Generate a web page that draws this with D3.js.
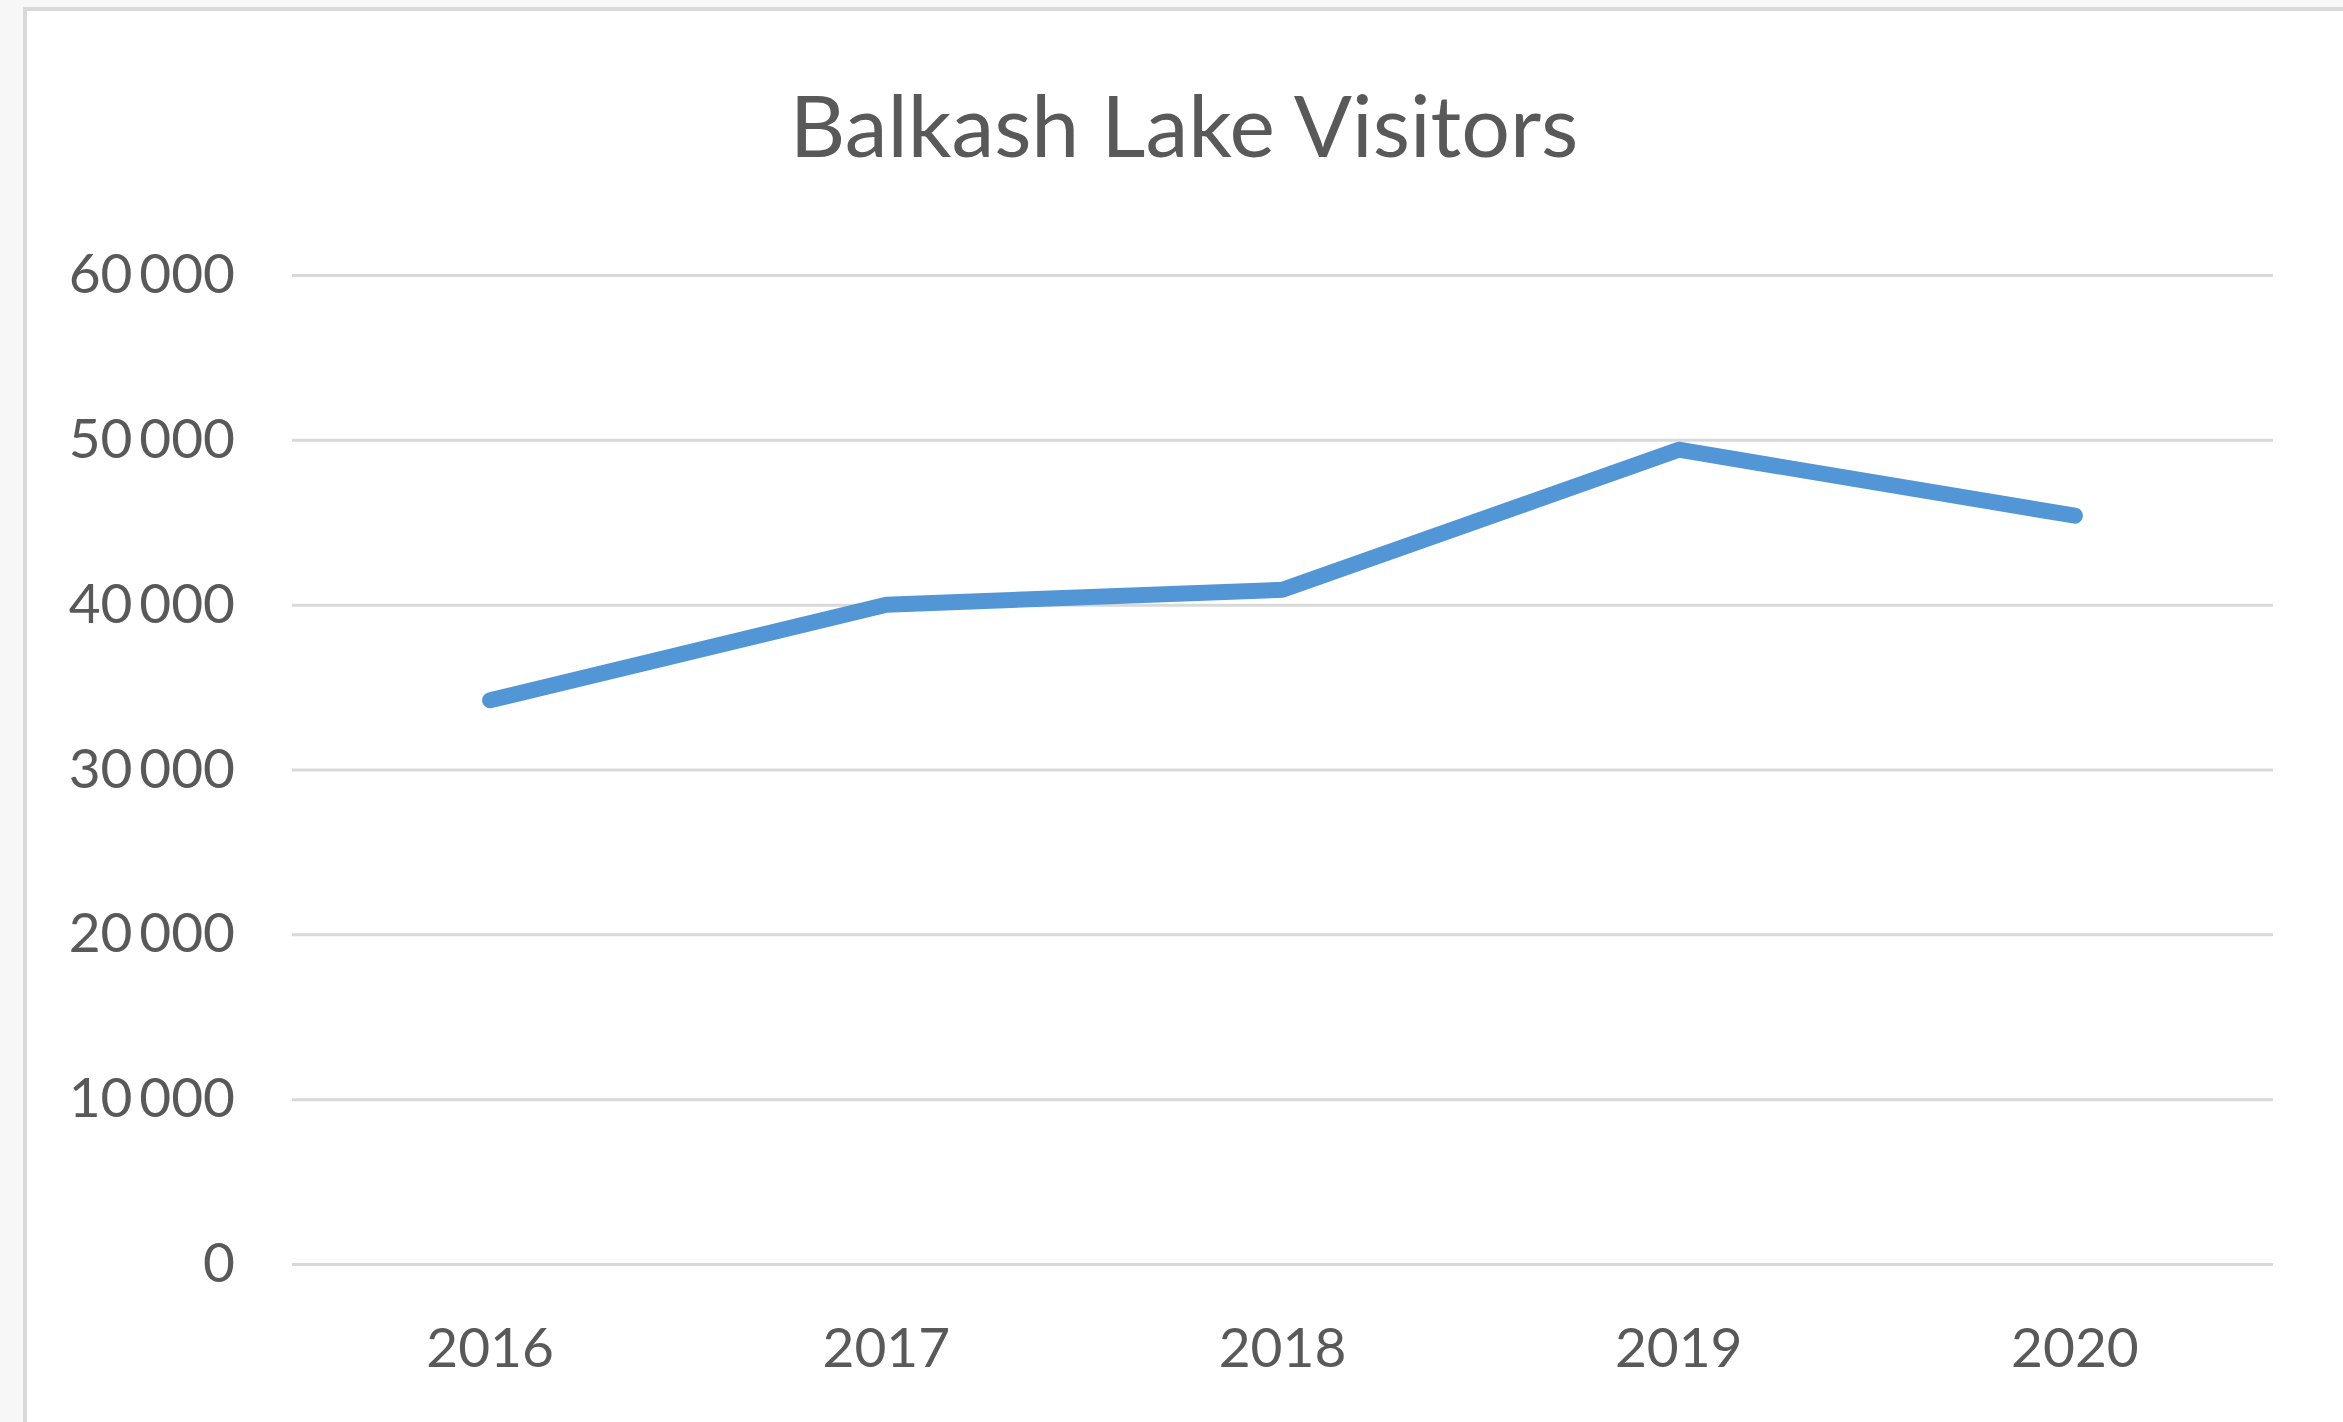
<!DOCTYPE html>
<html>
<head>
<meta charset="utf-8">
<script src="https://cdn.jsdelivr.net/npm/d3@7"></script>
<style>
  html, body { margin: 0; padding: 0; background: #f7f7f7; }
  svg { display: block; }
  text { font-family: Lato, "Noto Sans", sans-serif; fill: #595959; }
</style>
</head>
<body>
<svg id="chart" width="2343" height="1422"></svg>
<script>
// Yearly visitor counts
const years = ["2016", "2017", "2018", "2019", "2020"];
const visitors = [34200, 40000, 40900, 49400, 45400];
const yTicks = [0, 10000, 20000, 30000, 40000, 50000, 60000];
const title = "Balkash Lake Visitors";

const W = 2343, H = 1422;
const svg = d3.select("#chart");

// chart area frame
svg.append("rect")
  .attr("x", 25).attr("y", 9)
  .attr("width", W + 20).attr("height", H + 20)
  .attr("fill", "#ffffff")
  .attr("stroke", "#d9d9d9")
  .attr("stroke-width", 4);

const plot = { left: 292, right: 2273, top: 275, bottom: 1264 };

const x = d3.scaleBand().domain(years).range([plot.left, plot.right]).padding(0);
const y = d3.scaleLinear().domain([0, 60000]).range([plot.bottom, plot.top]);

// thousands separated by a thin space
const fmt = v => d3.format(",")(v).replace(/,/g, "\u2009");

// horizontal gridlines with value labels
const yAxis = d3.axisLeft(y)
  .tickValues(yTicks)
  .tickSize(-(plot.right - plot.left))
  .tickPadding(57)
  .tickFormat(fmt);

const gy = svg.append("g")
  .attr("transform", `translate(${plot.left},0)`)
  .call(yAxis);
gy.select(".domain").remove();
gy.selectAll(".tick line").attr("stroke", "#d9d9d9").attr("stroke-width", 3);
gy.selectAll(".tick text")
  .attr("fill", "#595959")
  .style("font-family", "Lato, 'Noto Sans', sans-serif")
  .style("font-size", "55px");

// category axis labels
const xAxis = d3.axisBottom(x).tickSize(0).tickPadding(64);
const gx = svg.append("g")
  .attr("transform", `translate(0,${plot.bottom})`)
  .call(xAxis);
gx.select(".domain").remove();
gx.selectAll(".tick text")
  .attr("fill", "#595959")
  .style("font-family", "Lato, 'Noto Sans', sans-serif")
  .style("font-size", "55px");

// visitors line
const line = d3.line()
  .x((d, i) => x(years[i]) + x.bandwidth() / 2)
  .y(d => y(d));

svg.append("path")
  .datum(visitors)
  .attr("d", line)
  .attr("fill", "none")
  .attr("stroke", "#5296d6")
  .attr("stroke-width", 16)
  .attr("stroke-linecap", "round")
  .attr("stroke-linejoin", "round");

// title
svg.append("text")
  .attr("x", 1184)
  .attr("y", 157)
  .attr("text-anchor", "middle")
  .style("font-size", "86px")
  .text(title);
</script>
</body>
</html>
